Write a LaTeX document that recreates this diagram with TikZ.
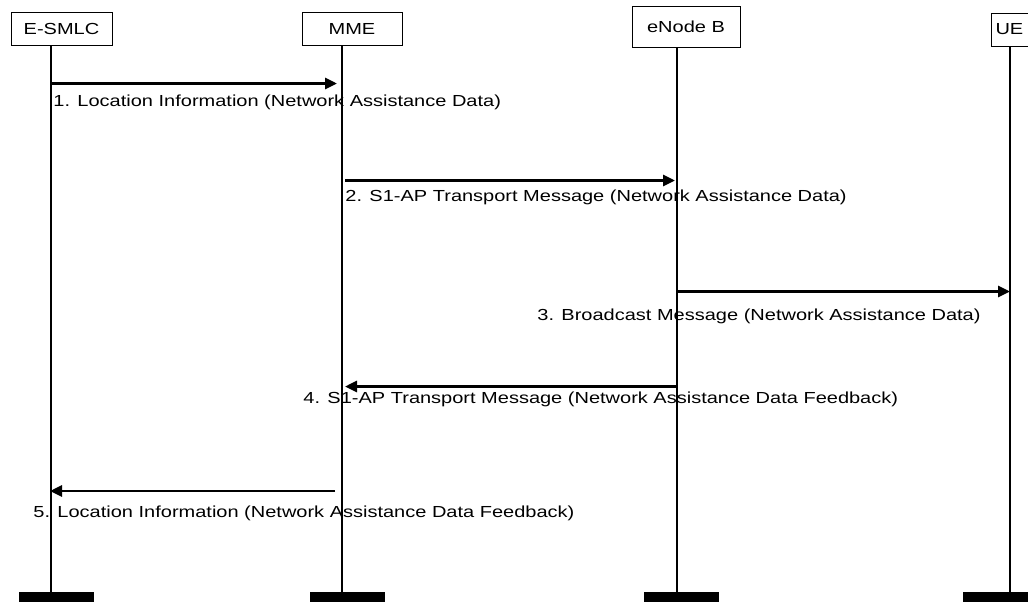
\documentclass[tikz,border=0pt]{standalone}
\usepackage{fontspec}
\setmainfont{Liberation Sans}[FakeStretch=1.25]
\usepackage{tikz}
\usetikzlibrary{arrows.meta,positioning}
\tikzset{
  >={Triangle[length=6pt,width=5.5pt]},
  entity/.style={rectangle,draw,line width=0.5pt,inner sep=0pt,minimum height=16.5pt},
  lifeline/.style={line width=0.8pt},
  stopbar/.style={rectangle,fill=black,inner sep=0pt,minimum width=37.5pt,minimum height=5pt},
  msg/.style={->,line width=1.4pt},
  msglabel/.style={anchor=base west,inner sep=0pt}
}

\begin{document}
\begin{tikzpicture}[x=0.5pt,y=-0.5pt,font=\fontsize{8}{10}\selectfont]
  \useasboundingbox (0,0) rectangle (1028,601);

  % entities
  \node[entity,minimum width=50.5pt] (esmlc) at (61.5,28.5) {E-SMLC};
  \node[entity,minimum width=50pt] (mme) at (352,28.5) {MME};
  \node[entity,minimum width=54pt,minimum height=20.5pt] (enb) at (686,26.5) {eNode B};
  \node[entity,anchor=west,inner xsep=2pt,text width=28pt,align=left] (ue) at (991,29.5) {UE};

  % end bars
  \node[stopbar] (esmlc-end) at (56.5,597) {};
  \node[stopbar] (mme-end) at (347,597) {};
  \node[stopbar] (enb-end) at (681.5,597) {};
  \node[stopbar] (ue-end) at (1000.5,597) {};

  % lifelines
  \coordinate (esmlc-x) at (51,0);
  \coordinate (mme-x) at (342,0);
  \coordinate (enb-x) at (677,0);
  \coordinate (ue-x) at (1010,0);
  \draw[lifeline] (esmlc.south -| esmlc-x) -- (esmlc-end.north -| esmlc-x);
  \draw[lifeline] (mme.south -| mme-x) -- (mme-end.north -| mme-x);
  \draw[lifeline] (enb.south -| enb-x) -- (enb-end.north -| enb-x);
  \draw[lifeline] (ue.south -| ue-x) -- (ue-end.north -| ue-x);

  % messages
  \coordinate (m1a) at (51,83.5);   \coordinate (m1b) at (337,83.5);
  \coordinate (m2a) at (345,180.5); \coordinate (m2b) at (675,180.5);
  \coordinate (m3a) at (677,291.5); \coordinate (m3b) at (1010,291.5);
  \coordinate (m4a) at (677,386.5); \coordinate (m4b) at (345,386.5);
  \coordinate (m5a) at (335,491);   \coordinate (m5b) at (50,491);

  \draw[msg] (m1a) -- (m1b);
  \draw[msg] (m2a) -- (m2b);
  \draw[msg] (m3a) -- (m3b);
  \draw[msg] (m4a) -- (m4b);
  \draw[msg] (m5a) -- (m5b);

  \node[msglabel] (l1) at (53,106.5) {1. Location Information (Network Assistance Data)};
  \node[msglabel] (l2) at (345,201.5) {2. S1-AP Transport Message (Network Assistance Data)};
  \node[msglabel] (l3) at (537,320.5) {3. Broadcast Message (Network Assistance Data)};
  \node[msglabel] (l4) at (303,403.5) {4. S1-AP Transport Message (Network Assistance Data Feedback)};
  \node[msglabel] (l5) at (33,517) {5. Location Information (Network Assistance Data Feedback)};
\end{tikzpicture}
\end{document}
